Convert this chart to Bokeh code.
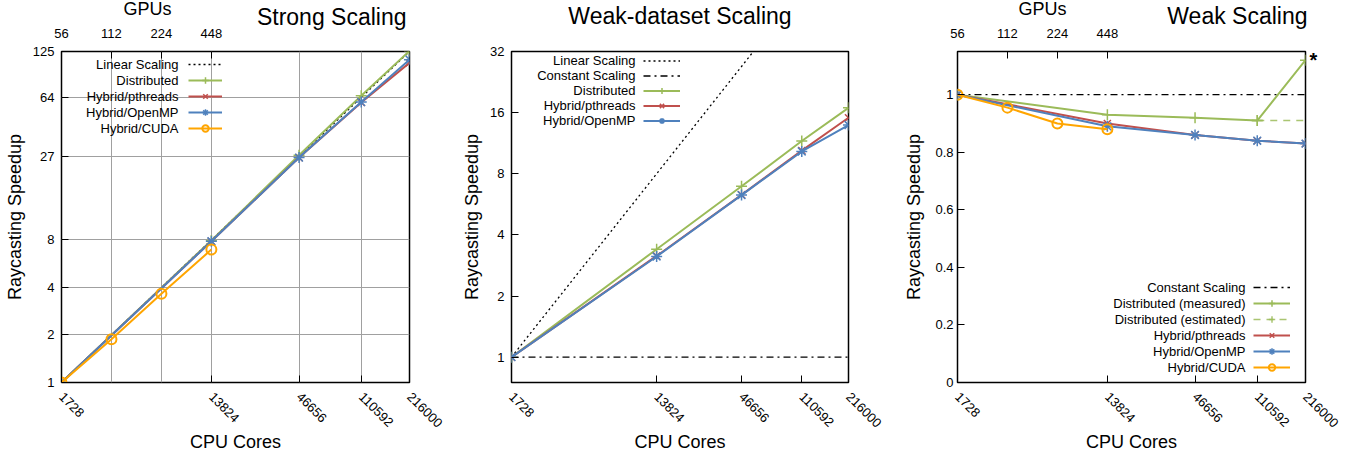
import math
from bokeh.plotting import figure
from bokeh.models import (LogAxis, FixedTicker, Label, Legend, LegendItem, Range1d, Grid, Title)
from bokeh.layouts import row
from bokeh.embed import file_html
from bokeh.resources import INLINE
from bokeh.core.properties import value

# ---------------- data ----------------
cores = [1728, 13824, 46656, 110592, 216000]
cores_labels = ["1728", "13824", "46656", "110592", "216000"]
gpu_cores = [1728, 3456, 6912, 13824]
gpu_labels = ["56", "112", "224", "448"]

# Strong scaling
strong_linear = [1, 8, 27, 64, 125]
strong_distributed = [1, 7.95, 27.5, 65.5, 126]
strong_pthreads = [1, 7.85, 26.6, 59.5, 106]
strong_openmp = [1, 7.85, 26.6, 59.8, 111]
strong_cuda = [1, 1.88, 3.65, 6.95]
strong_yticks = [1, 2, 4, 8, 27, 64, 125]
strong_ylabels = ["1", "2", "4", "8", "27", "64", "125"]

# Weak-dataset scaling
wd_linear = [1, 8, 27, 64, 125]
wd_constant = [1, 1, 1, 1, 1]
wd_distributed = [1, 3.4, 6.94, 11.6, 16.9]
wd_pthreads = [1, 3.15, 6.3, 10.4, 15.1]
wd_openmp = [1, 3.13, 6.28, 10.3, 13.9]
wd_yticks = [1, 2, 4, 8, 16, 32]
wd_ylabels = ["1", "2", "4", "8", "16", "32"]

# Weak scaling
w_constant = [1, 1, 1, 1, 1]
w_dist_measured = [1, 0.93, 0.92, 0.91, 1.12]
w_est_cores = [110592, 216000]
w_dist_estimated = [0.91, 0.91]
w_pthreads = [1, 0.90, 0.86, 0.84, 0.83]
w_openmp = [1, 0.89, 0.86, 0.84, 0.83]
w_cuda = [1, 0.955, 0.90, 0.88]
w_yticks = [0, 0.2, 0.4, 0.6, 0.8, 1]
w_ylabels = ["0", "0.2", "0.4", "0.6", "0.8", "1"]

leg_strong = ["Linear Scaling", "Distributed", "Hybrid/pthreads", "Hybrid/OpenMP", "Hybrid/CUDA"]
leg_wd = ["Linear Scaling", "Constant Scaling", "Distributed", "Hybrid/pthreads", "Hybrid/OpenMP"]
leg_w = ["Constant Scaling", "Distributed (measured)", "Distributed (estimated)",
         "Hybrid/pthreads", "Hybrid/OpenMP", "Hybrid/CUDA"]

# ---------------- style ----------------
FONT = "Liberation Sans"
GREEN = "#9bbb59"
RED = "#c0504d"
BLUE = "#4f81bd"
ORANGE = "#ffa500"
LW = 2


def make_fig(width, height, left, right, top, bottom, y_type, y_range):
    p = figure(width=width, height=height, x_axis_type="log", y_axis_type=y_type,
               x_range=Range1d(1728, 216000), y_range=Range1d(*y_range),
               output_backend="svg", toolbar_location=None, title_location=None,
               min_border_left=left, min_border_right=right,
               min_border_top=top, min_border_bottom=bottom)
    p.outline_line_color = "black"
    p.outline_line_width = 1.5
    p.outline_line_alpha = 1
    p.xgrid.visible = False
    p.ygrid.visible = False
    p.background_fill_color = "white"
    p.border_fill_color = "white"
    return p


def style_axis(ax, ticks, labels, standoff):
    ax.ticker = FixedTicker(ticks=ticks)
    ax.major_label_overrides = dict(zip(ticks, labels))
    ax.major_tick_in = 7
    ax.major_tick_out = 0
    ax.minor_tick_in = 0
    ax.minor_tick_out = 0
    ax.axis_line_color = None
    ax.major_tick_line_color = "black"
    ax.major_tick_line_width = 1
    ax.major_label_text_font = FONT
    ax.major_label_text_font_size = "13px"
    ax.major_label_text_color = "black"
    ax.major_label_standoff = standoff
    ax.axis_label_text_font = FONT
    ax.axis_label_text_font_size = "18px"
    ax.axis_label_text_font_style = "normal"
    ax.axis_label_text_color = "black"


def bottom_axis(p, xlabel_standoff):
    ax = p.xaxis[0]
    style_axis(ax, cores, cores_labels, 12)
    ax.major_label_orientation = -math.pi / 4
    ax.axis_label = "CPU Cores"
    ax.axis_label_standoff = xlabel_standoff


def left_axis(p, ticks, labels, standoff, label_standoff):
    ax = p.yaxis[0]
    style_axis(ax, ticks, labels, standoff)
    ax.axis_label = "Raycasting Speedup"
    ax.axis_label_standoff = label_standoff


def top_gpu_axis(p):
    ax = LogAxis()
    style_axis(ax, gpu_cores, gpu_labels, 14)
    p.add_layout(ax, "above")


def side_title(p, text, size, align, offset, standoff):
    p.add_layout(Title(text=text, align=align, vertical_align="bottom", offset=offset,
                       standoff=standoff, text_font=FONT, text_font_size=size,
                       text_font_style="normal", text_color="black"), "above")


def screen_label(p, x, y, text, size="13px", align="right", baseline="middle"):
    p.add_layout(Label(x=x, y=y, x_units="screen", y_units="screen", text=text,
                       text_align=align, text_baseline=baseline, text_font=FONT,
                       text_font_size=size, text_color="black"))


def add_legend(p, labels, renderers, text_right, top_center, step, sample_left, sample_width):
    n = len(labels)
    items = [LegendItem(label=value(""), renderers=r) for r in renderers]
    bottom = top_center + step / 2 - n * step
    leg = Legend(items=items, location=(sample_left, bottom), glyph_width=sample_width,
                 glyph_height=step, label_height=step, label_width=0, label_standoff=0,
                 spacing=0, padding=0, margin=0, background_fill_alpha=0,
                 border_line_alpha=0, label_text_font_size="1px")
    p.add_layout(leg)
    for i, lab in enumerate(labels):
        screen_label(p, text_right, top_center - i * step, lab)


def series(p, xs, ys, color, marker, size=10, dash="solid"):
    r1 = p.line(xs, ys, line_color=color, line_width=LW, line_dash=dash)
    if marker == "circle":
        r2 = p.scatter(xs, ys, marker="circle", size=10, fill_color=None,
                       line_color=color, line_width=2)
    else:
        r2 = p.scatter(xs, ys, marker=marker, size=size, line_color=color, line_width=1.5)
    return [r1, r2]


# ---------------- Strong scaling ----------------
p1 = make_fig(450, 456, 61, 41, 51, 74, "log", (1, 125))
bottom_axis(p1, -3)
left_axis(p1, strong_yticks, strong_ylabels, 7, 5)
top_gpu_axis(p1)
side_title(p1, "Strong Scaling", "23px", "right", 3, -9)
side_title(p1, "GPUs", "18px", "left", 62, -24)
g1x = Grid(dimension=0, ticker=FixedTicker(ticks=[3456, 6912, 13824, 46656, 110592]),
           grid_line_color="#a0a0a0", grid_line_width=1)
g1y = Grid(dimension=1, ticker=FixedTicker(ticks=[2, 4, 8, 27, 64]),
           grid_line_color="#a0a0a0", grid_line_width=1)
p1.add_layout(g1x)
p1.add_layout(g1y)

r_lin = p1.line(cores, strong_linear, line_color="black", line_width=1.3, line_dash="2 3")
r_d = series(p1, cores, strong_distributed, GREEN, "cross", 11)
r_p = series(p1, cores, strong_pthreads, RED, "x", 10)
r_o = series(p1, cores, strong_openmp, BLUE, "asterisk", 11)
r_c = series(p1, gpu_cores, strong_cuda, ORANGE, "circle")
add_legend(p1, leg_strong, [[r_lin], r_d, r_p, r_o, r_c], 117, 318, 16, 127, 34)

# ---------------- Weak-dataset scaling ----------------
p2 = make_fig(440, 456, 61, 42, 46, 72, "log", (0.75, 32))
bottom_axis(p2, -3)
left_axis(p2, wd_yticks, wd_ylabels, 7, 5)
p2.add_layout(Label(x=168.5, y=36, x_units="screen", y_units="screen",
                    text="Weak-dataset Scaling", text_align="center", text_baseline="middle",
                    text_font=FONT, text_font_size="23px", text_color="black"), "above")
r2_lin = p2.line(cores, wd_linear, line_color="black", line_width=1.3, line_dash="2 3")
r2_con = p2.line(cores, wd_constant, line_color="black", line_width=1.3, line_dash="7 4 2 4")
r2_d = series(p2, cores, wd_distributed, GREEN, "cross", 11)
r2_p = series(p2, cores, wd_pthreads, RED, "x", 10)
r2_o = series(p2, cores, wd_openmp, BLUE, "asterisk", 11)
add_legend(p2, leg_wd, [[r2_lin], [r2_con], r2_d, r2_p, r2_o], 124, 322, 15, 132, 37)

# ---------------- Weak scaling ----------------
p3 = make_fig(474, 456, 67, 59, 51, 73, "linear", (0, 1.15))
bottom_axis(p3, -3)
left_axis(p3, w_yticks, w_ylabels, 4, 8)
top_gpu_axis(p3)
side_title(p3, "Weak Scaling", "23px", "right", -2, -7)
side_title(p3, "GPUs", "18px", "left", 61, -28)
r3_con = p3.line(cores, w_constant, line_color="black", line_width=1.3, line_dash="7 4 2 4")
r3_m = series(p3, cores, w_dist_measured, GREEN, "cross", 11)
r3_e_line = p3.line(w_est_cores, w_dist_estimated, line_color=GREEN, line_width=1.5,
                    line_dash="7 6", line_alpha=0.85)
r3_e_mark = p3.scatter(w_est_cores[:1], w_dist_estimated[:1], marker="cross", size=11,
                       line_color=GREEN, line_width=1.5, line_alpha=0.85)
r3_p = series(p3, cores, w_pthreads, RED, "x", 10)
r3_o = series(p3, cores, w_openmp, BLUE, "asterisk", 11)
r3_c = series(p3, gpu_cores, w_cuda, ORANGE, "circle")
add_legend(p3, leg_w, [[r3_con], r3_m, [r3_e_line, r3_e_mark], r3_p, r3_o, r3_c],
           288, 95, 16, 296, 37)
p3.add_layout(Label(x=4, y=w_dist_measured[-1], x_units="screen", y_units="data",
                    y_offset=0, text="*", text_align="left", text_baseline="middle",
                    text_font=FONT, text_font_size="20px", text_font_style="bold",
                    text_color="black"), "right")

layout = row(p1, p2, p3)
open("out.html", "w").write(file_html(layout, INLINE))
